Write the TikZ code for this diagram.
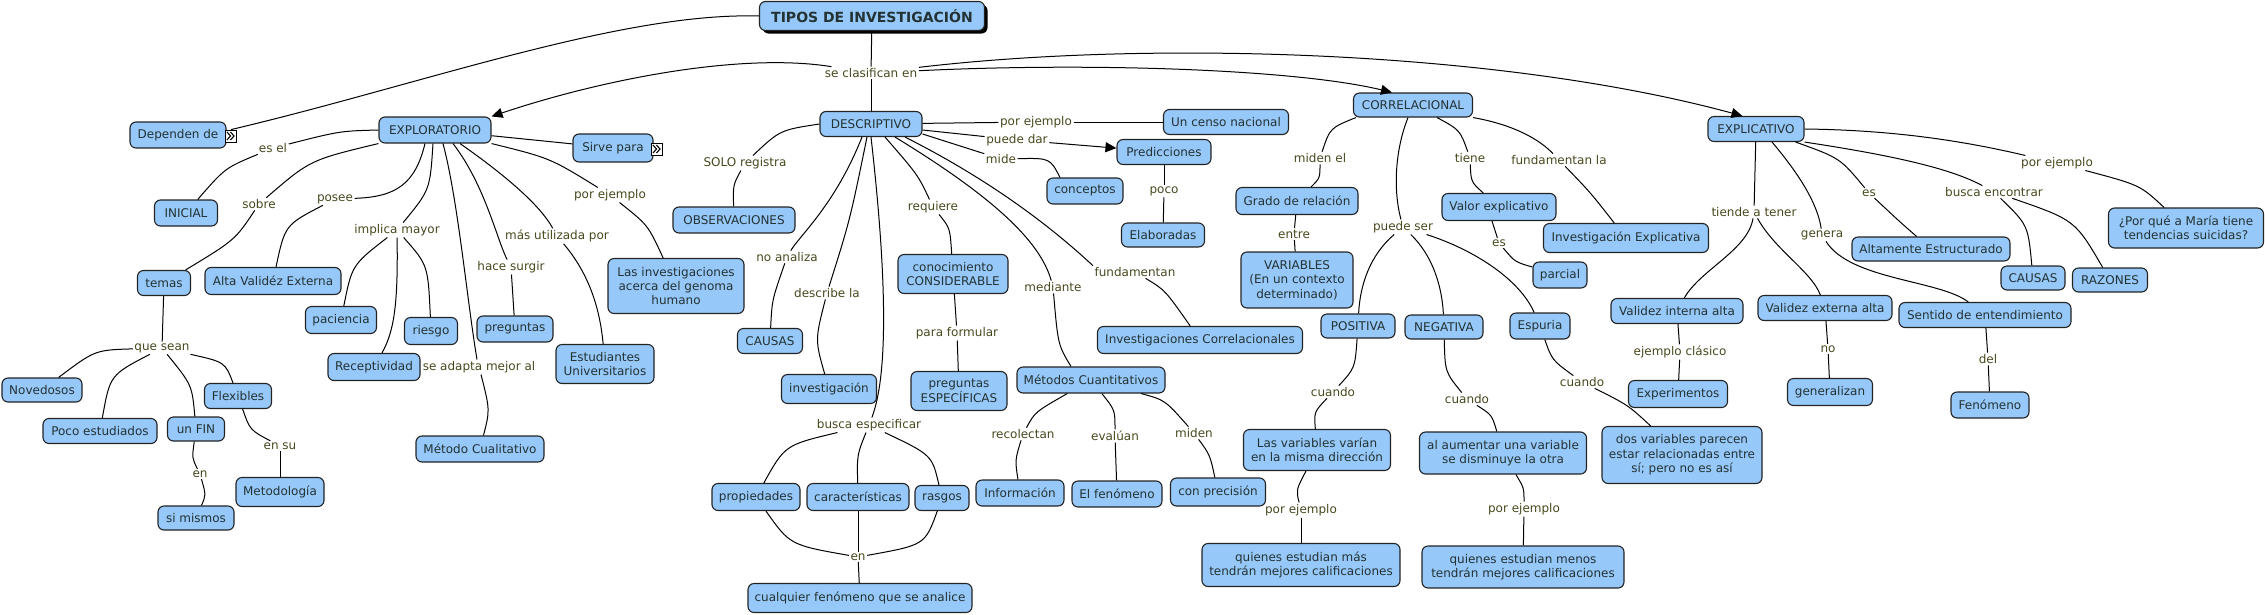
\documentclass[tikz,border=0pt]{standalone}
\usepackage{fontspec}
\setmainfont{DejaVu Sans}
\usetikzlibrary{arrows.meta,shadows}
\definecolor{cfill}{RGB}{150,200,250}
\definecolor{cdraw}{RGB}{35,35,35}
\definecolor{ctext}{RGB}{35,50,50}
\definecolor{ltext}{RGB}{72,72,30}
\newcommand\mapfont{\fontsize{12pt}{14.4pt}\selectfont}
\tikzset{
 cbox/.style={draw=cdraw, fill=cfill, rounded corners=6pt, line width=1.1pt, text=ctext, font=\mapfont, align=center, inner sep=1pt},
 sz/.style 2 args={minimum width=#1, minimum height=#2},
 lbl/.style={text=ltext, font=\mapfont, inner sep=1.5pt},
 link/.style={draw=black, line width=1pt},
 arrowend/.style={-{Triangle[length=11pt,width=10pt]}},
 iconbox/.style={draw=black, fill=white, line width=0.8pt, minimum width=11pt, minimum height=12pt, inner sep=0pt,
   path picture={
     \draw[line width=1.1pt] ([shift={(-4pt,4pt)}]path picture bounding box.center) -- ([shift={(-0.5pt,0pt)}]path picture bounding box.center) -- ([shift={(-4pt,-4pt)}]path picture bounding box.center);
     \draw[line width=1.1pt] ([shift={(-0.5pt,4pt)}]path picture bounding box.center) -- ([shift={(3pt,0pt)}]path picture bounding box.center) -- ([shift={(-0.5pt,-4pt)}]path picture bounding box.center);
   }}
}
\begin{document}
\begin{tikzpicture}[x=1pt,y=-1pt]
\useasboundingbox (0,0) rectangle (2265,614);
% ---------------- concepts
\node[cbox,sz={225}{29},font=\fontsize{14pt}{16pt}\selectfont\bfseries,drop shadow={shadow xshift=3pt,shadow yshift=-3pt,fill=black,opacity=1}] (tipos) at (872,16) {TIPOS DE INVESTIGACIÓN};
\node[cbox,sz={96}{26}] (dep) at (178,135) {Dependen de};
\node[iconbox] (icon1) at (231,136) {};
\node[cbox,sz={112}{26}] (explor) at (435,130) {EXPLORATORIO};
\node[cbox,sz={63}{26}] (inicial) at (186,213) {INICIAL};
\node[cbox,sz={53}{25}] (temas) at (164,283) {temas};
\node[cbox,sz={136}{27}] (alta) at (273,281) {Alta Validéz Externa};
\node[cbox,sz={80}{28}] (sirve) at (613,148) {Sirve para};
\node[iconbox] (icon2) at (657,149) {};
\node[cbox,sz={136}{55}] (genoma) at (676,286) {Las investigaciones\\acerca del genoma\\humano};
\node[cbox,sz={71}{27}] (paciencia) at (341,320) {paciencia};
\node[cbox,sz={92}{27}] (recept) at (374,367) {Receptividad};
\node[cbox,sz={53}{27}] (riesgo) at (431,331) {riesgo};
\node[cbox,sz={76}{26}] (pregs) at (515,329) {preguntas};
\node[cbox,sz={98}{39}] (estud) at (605,364) {Estudiantes\\Universitarios};
\node[cbox,sz={128}{26}] (metcual) at (480,449) {Método Cualitativo};
\node[cbox,sz={80}{24}] (noved) at (42,390) {Novedosos};
\node[cbox,sz={114}{25}] (pocoest) at (100,431) {Poco estudiados};
\node[cbox,sz={57}{24}] (unfin) at (196,429) {un FIN};
\node[cbox,sz={67}{25}] (flex) at (238,396) {Flexibles};
\node[cbox,sz={76}{24}] (simis) at (196,518) {si mismos};
\node[cbox,sz={88}{29}] (metod) at (280,492) {Metodología};
\node[cbox,sz={102}{25}] (descr) at (871,124) {DESCRIPTIVO};
\node[cbox,sz={122}{26}] (obs) at (734,220) {OBSERVACIONES};
\node[cbox,sz={65}{25}] (causasd) at (770,341) {CAUSAS};
\node[cbox,sz={95}{29}] (invest) at (829,389) {investigación};
\node[cbox,sz={88}{27}] (propi) at (756,497) {propiedades};
\node[cbox,sz={102}{27}] (caract) at (858,497) {características};
\node[cbox,sz={54}{25}] (rasgos) at (942,498) {rasgos};
\node[cbox,sz={224}{29}] (cualq) at (860,598) {cualquier fenómeno que se analice};
\node[cbox,sz={110}{39}] (conoc) at (953,274) {conocimiento\\CONSIDERABLE};
\node[cbox,sz={96}{39}] (pregesp) at (959,391) {preguntas\\ESPECÍFICAS};
\node[cbox,sz={148}{26}] (metcuant) at (1091,380) {Métodos Cuantitativos};
\node[cbox,sz={88}{26}] (info) at (1020,493) {Información};
\node[cbox,sz={90}{26}] (elfen) at (1117,494) {El fenómeno};
\node[cbox,sz={95}{28}] (conprec) at (1218,492) {con precisión};
\node[cbox,sz={205}{27}] (invcorr) at (1200,340) {Investigaciones Correlacionales};
\node[cbox,sz={125}{25}] (censo) at (1226,122) {Un censo nacional};
\node[cbox,sz={94}{25}] (predic) at (1164,152) {Predicciones};
\node[cbox,sz={83}{24}] (elab) at (1163,235) {Elaboradas};
\node[cbox,sz={76}{26}] (concep) at (1085,191) {conceptos};
\node[cbox,sz={119}{24}] (corr) at (1413,105) {CORRELACIONAL};
\node[cbox,sz={122}{27}] (grado) at (1297,201) {Grado de relación};
\node[cbox,sz={112}{56}] (vars) at (1297,280) {VARIABLES\\(En un contexto\\determinado)};
\node[cbox,sz={114}{27}] (valor) at (1499,207) {Valor explicativo};
\node[cbox,sz={54}{26}] (parcial) at (1560,275) {parcial};
\node[cbox,sz={165}{29}] (invexp) at (1626,238) {Investigación Explicativa};
\node[cbox,sz={74}{24}] (posit) at (1358,326) {POSITIVA};
\node[cbox,sz={78}{24}] (negat) at (1444,327) {NEGATIVA};
\node[cbox,sz={60}{26}] (espur) at (1540,326) {Espuria};
\node[cbox,sz={147}{41}] (lasvar) at (1317,450) {Las variables varían\\en la misma dirección};
\node[cbox,sz={198}{43}] (quimas) at (1301,565) {quienes estudian más\\tendrán mejores calificaciones};
\node[cbox,sz={167}{42}] (alaum) at (1503,453) {al aumentar una variable\\se disminuye la otra};
\node[cbox,sz={202}{42}] (quimen) at (1523,567) {quienes estudian menos\\tendrán mejores calificaciones};
\node[cbox,sz={160}{57}] (dosvar) at (1682,455) {dos variables parecen\\estar relacionadas entre\\sí; pero no es así};
\node[cbox,sz={96}{25}] (explic) at (1756,129) {EXPLICATIVO};
\node[cbox,sz={132}{25}] (valint) at (1677,311) {Validez interna alta};
\node[cbox,sz={134}{25}] (valext) at (1825,308) {Validez externa alta};
\node[cbox,sz={99}{27}] (exper) at (1678,394) {Experimentos};
\node[cbox,sz={85}{27}] (genz) at (1830,392) {generalizan};
\node[cbox,sz={158}{24}] (altest) at (1931,249) {Altamente Estructurado};
\node[cbox,sz={64}{24}] (causase) at (2033,278) {CAUSAS};
\node[cbox,sz={75}{24}] (razones) at (2110,280) {RAZONES};
\node[cbox,sz={155}{40}] (porque) at (2186,228) {¿Por qué a María tiene\\tendencias suicidas?};
\node[cbox,sz={172}{25}] (sentido) at (1985,315) {Sentido de entendimiento};
\node[cbox,sz={78}{26}] (fenom) at (1990,405) {Fenómeno};
% ---------------- labels
\node[lbl] (lclas) at (871,73) {se clasifican en};
\node[lbl] (lesel) at (273,148) {es el};
\node[lbl] (lsobre) at (259,204) {sobre};
\node[lbl] (lposee) at (335,199) {posee};
\node[lbl] (limpl) at (397,230) {implica mayor};
\node[lbl] (ladapta) at (479,367) {se adapta mejor al};
\node[lbl] (lsurgir) at (511,267) {hace surgir};
\node[lbl] (lutiliz) at (557,236) {más utilizada por};
\node[lbl] (lejex) at (610,195) {por ejemplo};
\node[lbl] (lquesean) at (162,348) {que sean};
\node[lbl] (lenA) at (200,474) {en};
\node[lbl] (lensu) at (280,446) {en su};
\node[lbl] (lsolo) at (745,163) {SOLO registra};
\node[lbl] (lnoanal) at (787,257) {no analiza};
\node[lbl] (ldescribe) at (827,293) {describe la};
\node[lbl] (lbusca) at (869,425) {busca especificar};
\node[lbl] (lenB) at (858,557) {en};
\node[lbl] (lrequiere) at (933,207) {requiere};
\node[lbl] (lformular) at (957,333) {para formular};
\node[lbl] (lmediante) at (1053,287) {mediante};
\node[lbl] (lrecol) at (1023,434) {recolectan};
\node[lbl] (leval) at (1115,436) {evalúan};
\node[lbl] (lmiden) at (1194,433) {miden};
\node[lbl] (lfundam) at (1135,272) {fundamentan};
\node[lbl] (lejd) at (1036,122) {por ejemplo};
\node[lbl] (lpuede) at (1017,140) {puede dar};
\node[lbl] (lmide) at (1001,159) {mide};
\node[lbl] (lpoco) at (1164,191) {poco};
\node[lbl] (lmidenel) at (1320,158) {miden el};
\node[lbl] (lentre) at (1294,234) {entre};
\node[lbl] (lpuedeser) at (1403,227) {puede ser};
\node[lbl] (ltiene) at (1470,158) {tiene};
\node[lbl] (lesA) at (1499,243) {es};
\node[lbl] (lfundla) at (1559,160) {fundamentan la};
\node[lbl] (lcuandoA) at (1333,392) {cuando};
\node[lbl] (lejp) at (1301,510) {por ejemplo};
\node[lbl] (lcuandoB) at (1467,399) {cuando};
\node[lbl] (lejn) at (1524,509) {por ejemplo};
\node[lbl] (lcuandoC) at (1582,382) {cuando};
\node[lbl] (ltiende) at (1754,212) {tiende a tener};
\node[lbl] (lgenera) at (1822,235) {genera};
\node[lbl] (lesB) at (1869,193) {es};
\node[lbl] (lbuscaB) at (1994,192) {busca encontrar};
\node[lbl] (leje) at (2057,163) {por ejemplo};
\node[lbl] (lclasico) at (1680,352) {ejemplo clásico};
\node[lbl] (lno) at (1828,349) {no};
\node[lbl] (ldel) at (1988,359) {del};
% ---------------- connectors: top
\draw[link] (tipos) -- (lclas);
\draw[link] (lclas) -- (descr);
\draw[link,arrowend] (lclas) .. controls (740,52) and (600,80) .. (explor.north east);
\draw[link,arrowend] (lclas) .. controls (1100,62) and (1300,70) .. ([xshift=39pt]corr.north west);
\draw[link,arrowend] (lclas) .. controls (1150,40) and (1500,50) .. ([xshift=35pt]explic.north west);
\draw[link] (tipos.west) .. controls (620,12) and (420,85) .. (icon1.north);
% exploratorio
\draw[link] (explor) -- (sirve);
\draw[link] (explor.west) .. controls (340,131) .. (lesel);
\draw[link] (lesel) .. controls (225,168) .. (inicial);
\draw[link] (explor.south west) .. controls (310,160) .. (lsobre);
\draw[link] (lsobre) .. controls (235,240) .. (temas);
\draw[link] ([xshift=-10pt]explor.south) .. controls (415,185) and (395,197) .. (lposee);
\draw[link] (lposee) .. controls (285,225) .. (alta);
\draw[link] ([xshift=-2pt]explor.south) .. controls (430,190) .. (limpl);
\draw[link] (limpl) .. controls (352,265) .. (paciencia);
\draw[link] (limpl) .. controls (398,300) and (395,330) .. (recept);
\draw[link] (limpl) .. controls (428,265) .. (riesgo);
\draw[link] ([xshift=8pt]explor.south) .. controls (458,200) and (467,300) .. ([xshift=-2pt]ladapta.north);
\draw[link] ([xshift=2pt]ladapta.south) .. controls (490,410) .. (metcual);
\draw[link] ([xshift=18pt]explor.south) .. controls (485,185) and (497,240) .. (lsurgir);
\draw[link] (lsurgir) -- (pregs);
\draw[link] ([xshift=25pt]explor.south) .. controls (505,175) and (540,205) .. (lutiliz);
\draw[link] (lutiliz) .. controls (590,275) and (600,310) .. (estud);
\draw[link] (explor.south east) .. controls (550,158) .. (lejex);
\draw[link] (lejex) .. controls (648,225) .. (genoma);
\draw[link] (temas) -- (lquesean);
\draw[link] (lquesean) .. controls (95,350) .. (noved);
\draw[link] (lquesean) .. controls (110,375) .. (pocoest);
\draw[link] (lquesean) .. controls (192,385) .. (unfin);
\draw[link] (lquesean) .. controls (225,362) .. (flex);
\draw[link] (unfin) .. controls (192,458) .. (lenA);
\draw[link] (lenA) .. controls (206,495) .. (simis);
\draw[link] (flex) .. controls (250,430) .. (lensu);
\draw[link] (lensu) -- (metod);
% descriptivo
\draw[link] (descr) -- (lejd);
\draw[link] (lejd) -- (censo);
\draw[link] ([yshift=-6pt]descr.east) -- (lpuede);
\draw[link,arrowend] (lpuede) -- (predic);
\draw[link] ([yshift=-10pt]descr.east) -- (lmide);
\draw[link] (lmide) .. controls (1050,158) .. ([xshift=-25pt]concep.north);
\draw[link] ([xshift=14pt]descr.south) .. controls (918,175) .. (lrequiere);
\draw[link] (lrequiere) .. controls (950,228) .. (conoc);
\draw[link] (conoc) -- (lformular);
\draw[link] (lformular) -- (pregesp);
\draw[link] ([xshift=24pt]descr.south) .. controls (990,195) and (1040,240) .. (lmediante);
\draw[link] (lmediante) .. controls (1058,345) .. ([xshift=-20pt]metcuant.north);
\draw[link] ([xshift=34pt]descr.south) .. controls (1000,185) and (1060,235) .. (lfundam.north west);
\draw[link] (lfundam) .. controls (1165,290) .. (invcorr);
\draw[link] (descr.west) .. controls (780,130) .. (lsolo);
\draw[link] (lsolo) .. controls (733,185) .. (obs);
\draw[link] ([xshift=-9pt]descr.south) .. controls (835,205) and (800,235) .. (lnoanal);
\draw[link] (lnoanal) .. controls (772,300) .. (causasd);
\draw[link] ([xshift=-4pt]descr.south) .. controls (850,220) .. (ldescribe);
\draw[link] (ldescribe) .. controls (815,340) .. (invest);
\draw[link] (descr.south) .. controls (885,260) and (890,370) .. (lbusca);
\draw[link] (lbusca) .. controls (785,445) .. (propi);
\draw[link] (lbusca) .. controls (857,455) .. (caract);
\draw[link] (lbusca) .. controls (932,455) .. (rasgos);
\draw[link] (propi) .. controls (790,545) .. (lenB);
\draw[link] (caract) -- (lenB);
\draw[link] (rasgos) .. controls (925,545) .. (lenB);
\draw[link] (lenB) -- (cualq);
\draw[link] (metcuant) .. controls (1035,412) .. (lrecol);
\draw[link] (lrecol) .. controls (1015,460) .. (info);
\draw[link] (metcuant) .. controls (1115,410) .. (leval);
\draw[link] (leval) -- (elfen);
\draw[link] (metcuant) .. controls (1165,400) .. (lmiden);
\draw[link] (lmiden) .. controls (1210,455) .. (conprec);
\draw[link] (predic) -- (lpoco);
\draw[link] (lpoco) -- (elab);
% correlacional
\draw[link] ([xshift=3pt]corr.south west) .. controls (1330,128) .. (lmidenel);
\draw[link] (lmidenel) .. controls (1320,178) .. (grado);
\draw[link] (grado) -- (lentre);
\draw[link] (lentre) -- (vars);
\draw[link] ([xshift=-5pt]corr.south) .. controls (1395,150) and (1393,190) .. (lpuedeser);
\draw[link] (lpuedeser) .. controls (1370,255) and (1360,285) .. (posit);
\draw[link] (lpuedeser) .. controls (1432,255) and (1442,285) .. (negat);
\draw[link] (lpuedeser) .. controls (1475,250) and (1520,280) .. (espur);
\draw[link] ([xshift=24pt]corr.south) .. controls (1460,130) .. (ltiene);
\draw[link] (ltiene) .. controls (1471,182) .. (valor);
\draw[link] ([xshift=-7pt]valor.south) -- (lesA);
\draw[link] (lesA) .. controls (1515,262) .. (parcial);
\draw[link] (corr.south east) .. controls (1515,125) and (1540,140) .. (lfundla);
\draw[link] (lfundla) .. controls (1590,192) .. (invexp);
\draw[link] (posit) .. controls (1355,368) .. (lcuandoA);
\draw[link] (lcuandoA) .. controls (1314,412) .. (lasvar);
\draw[link] (lasvar) .. controls (1296,490) .. (lejp);
\draw[link] (lejp) -- (quimas);
\draw[link] (negat) .. controls (1445,372) .. (lcuandoB);
\draw[link] (lcuandoB) .. controls (1492,415) .. (alaum);
\draw[link] (alaum) .. controls (1524,488) .. (lejn);
\draw[link] (lejn) -- (quimen);
\draw[link] (espur) .. controls (1552,360) .. (lcuandoC);
\draw[link] (lcuandoC) .. controls (1628,405) .. (dosvar);
% explicativo
\draw[link] (explic) -- (ltiende);
\draw[link] (ltiende) .. controls (1748,250) and (1700,270) .. (valint);
\draw[link] (ltiende) .. controls (1775,250) and (1812,272) .. (valext);
\draw[link] ([xshift=16pt]explic.south) .. controls (1800,175) and (1818,205) .. (lgenera);
\draw[link] (lgenera) .. controls (1850,280) and (1940,280) .. (sentido);
\draw[link] ([xshift=-9pt]explic.south east) .. controls (1840,158) .. (lesB);
\draw[link] (lesB) .. controls (1900,222) .. (altest);
\draw[link] (explic.south east) .. controls (1890,155) and (1950,168) .. (lbuscaB);
\draw[link] (lbuscaB) .. controls (2028,225) .. (causase);
\draw[link] (lbuscaB) .. controls (2075,220) .. (razones);
\draw[link] (explic.east) .. controls (1890,130) and (1960,140) .. (leje);
\draw[link] (leje) .. controls (2140,185) .. (porque);
\draw[link] (valint) -- (lclasico);
\draw[link] (lclasico) -- (exper);
\draw[link] (valext) -- (lno);
\draw[link] (lno) -- (genz);
\draw[link] (sentido) -- (ldel);
\draw[link] (ldel) -- (fenom);
\end{tikzpicture}
\end{document}
